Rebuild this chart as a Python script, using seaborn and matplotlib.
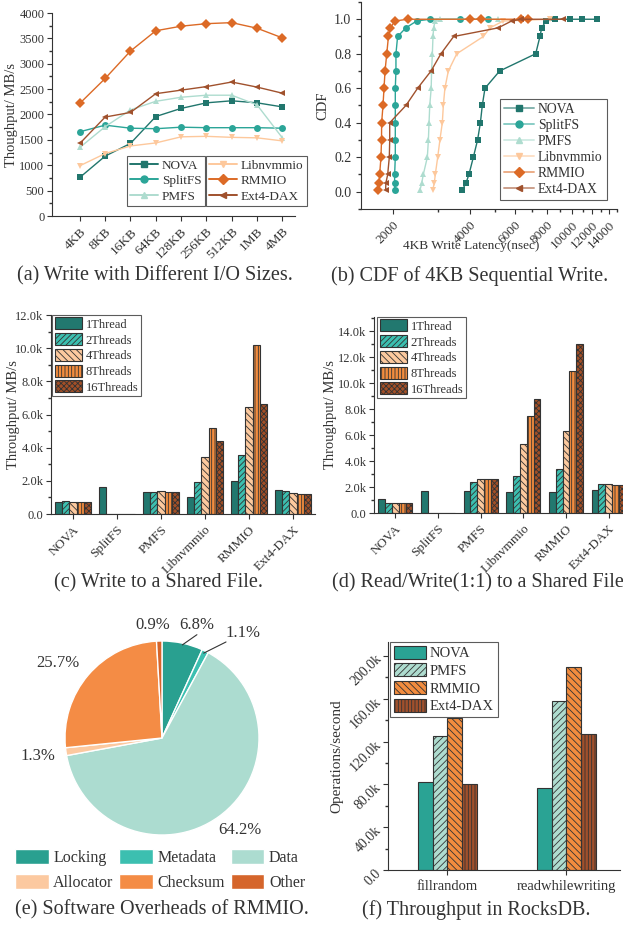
import matplotlib
matplotlib.use('Agg')
import matplotlib.pyplot as plt
from matplotlib.lines import Line2D
from matplotlib.patches import Patch
from matplotlib.colors import to_rgba
from matplotlib.ticker import (FixedLocator, FuncFormatter, NullFormatter,
                               MultipleLocator, AutoMinorLocator)
import numpy as np
import pandas as pd
import seaborn as sns

# ---------------- data ----------------
fs_order = ['NOVA', 'SplitFS', 'PMFS', 'Libnvmmio', 'RMMIO', 'Ext4-DAX']

# (a) write throughput (MB/s) vs I/O size
io_sizes = ['4KB', '8KB', '16KB', '64KB', '128KB', '256KB', '512KB', '1MB', '4MB']
a_nova = [760, 1180, 1430, 1960, 2120, 2230, 2270, 2230, 2150]
a_splitfs = [1660, 1790, 1730, 1720, 1750, 1740, 1740, 1740, 1730]
a_pmfs = [1350, 1760, 2090, 2260, 2340, 2380, 2380, 2190, 1540]
a_libnvmmio = [990, 1230, 1380, 1440, 1560, 1570, 1550, 1540, 1480]
a_rmmio = [2220, 2710, 3250, 3650, 3740, 3790, 3810, 3700, 3510]
a_ext4 = [1430, 1950, 2040, 2410, 2480, 2550, 2640, 2540, 2420]

# (b) CDF of 4KB write latency (nsec); every series shares the same levels,
# then a few extra points sitting at CDF = 1.0
cdf_levels = [0.01, 0.05, 0.1, 0.2, 0.3, 0.4, 0.5, 0.6, 0.7, 0.8, 0.9, 0.95, 0.99]
b_nova = [3730, 3855, 3960, 4120, 4280, 4390, 4465, 4575, 5220, 7220, 7500, 7620, 7920]
b_nova_tail = [8590, 9830, 10900, 12500]
b_splitfs = [2030, 2030, 2030, 2042, 2042, 2042, 2042, 2042, 2054, 2054, 2085, 2246, 2475]
b_splitfs_tail = [2790, 3650, 4710]
b_pmfs = [2550, 2590, 2627, 2724, 2750, 2766, 2784, 2820, 2830, 2850, 2866, 2884, 2920]
b_pmfs_tail = [3050, 5150]
b_libnvmmio = [2858, 2900, 2926, 2990, 3050, 3117, 3146, 3190, 3290, 3550, 4510, 4780, 5400]
b_libnvmmio_tail = [8200]
b_rmmio = [1742, 1764, 1774, 1795, 1804, 1806, 1828, 1845, 1862, 1891, 1920, 1953, 2036]
b_rmmio_tail = [2282, 4000, 4420, 6350, 6750]
b_ext4 = [1872, 1876, 1907, 1935, 1942, 1942, 2246, 2496, 2816, 3078, 3452, 5150, 5815]
b_ext4_tail = [6350, 9230]

# (c) write to a shared file (MB/s)
threads = ['1Thread', '2Threads', '4Threads', '8Threads', '16Threads']
c_1t = [740, 1640, 1340, 1000, 1960, 1440]
c_2t = [800, 0, 1340, 1940, 3580, 1400]
c_4t = [700, 0, 1400, 3420, 6480, 1240]
c_8t = [700, 0, 1340, 5180, 10200, 1180]
c_16t = [700, 0, 1340, 4420, 6640, 1180]

# (d) read/write 1:1 to a shared file (MB/s)
d_1t = [1050, 1720, 1700, 1630, 1630, 1780]
d_2t = [800, 0, 2380, 2850, 3400, 2260]
d_4t = [800, 0, 2600, 5350, 6350, 2220]
d_8t = [800, 0, 2600, 7440, 10930, 2120]
d_16t = [800, 0, 2600, 8780, 13000, 2150]

# (e) software overheads of RMMIO (%)
pie_parts = ['Locking', 'Metadata', 'Data', 'Allocator', 'Checksum', 'Other']
pie_share = [6.8, 1.1, 64.2, 1.3, 25.7, 0.9]

# (f) RocksDB throughput (ops/s)
workloads = ['fillrandom', 'readwhilewriting']
f_fs = ['NOVA', 'PMFS', 'RMMIO', 'Ext4-DAX']
f_nova = [82000, 77000]
f_pmfs = [125000, 157800]
f_rmmio = [141600, 189800]
f_ext4 = [80400, 126700]

# ---------------- styles ----------------
line_colors = {'NOVA': '#21766d', 'SplitFS': '#2ba598', 'PMFS': '#aedccf',
               'Libnvmmio': '#fdc89c', 'RMMIO': '#dc6a26', 'Ext4-DAX': '#a0512d'}
line_markers = {'NOVA': 's', 'SplitFS': 'o', 'PMFS': '^',
                'Libnvmmio': 'v', 'RMMIO': 'D', 'Ext4-DAX': '<'}
thread_colors = ['#22786f', '#3cbfb0', '#fcc99e', '#f28c3e', '#a24f27']
thread_hatch = ['', '//////', '\\\\\\\\\\', '|||||', 'xxxxxx']
f_colors = ['#2aa394', '#aedccf', '#f28c3e', '#a0502c']
f_hatch = ['', '/////', '\\\\\\\\\\', '|||||']
pie_colors = ['#29a090', '#3cbfb0', '#acdcd0', '#fcc9a0', '#f48c45', '#d5652b']
ink = '#333333'

sns.set_theme(style='ticks', rc={
    'axes.edgecolor': ink, 'axes.linewidth': 0.8,
    'xtick.color': ink, 'ytick.color': ink,
    'text.color': ink, 'axes.labelcolor': ink,
    'xtick.major.size': 3.5, 'ytick.major.size': 3.5,
    'xtick.minor.size': 2, 'ytick.minor.size': 2,
    'xtick.major.width': 0.8, 'ytick.major.width': 0.8,
    'hatch.linewidth': 0.6,
})
plt.rcParams['font.family'] = ['Liberation Serif', 'DejaVu Serif']

W, H = 623, 930
fig = plt.figure(figsize=(W / 100, H / 100), dpi=100)


def box(l, t, r, b):
    return [l / W, 1 - b / H, (r - l) / W, (b - t) / H]


ax_a = fig.add_axes(box(52, 13, 295, 216))
ax_b = fig.add_axes(box(361, 2, 617, 209))
ax_c = fig.add_axes(box(51, 315, 315, 514))
ax_d = fig.add_axes(box(374, 317, 630, 513))
ax_e = fig.add_axes(box(52, 628, 272, 848))
ax_f = fig.add_axes(box(388, 642, 620, 870))


def kfmt(v, p):
    return '0.0' if v == 0 else f'{v / 1000:.1f}k'


def rotate_x(ax, size):
    ax.tick_params(axis='x', labelsize=size)
    plt.setp(ax.get_xticklabels(), rotation=45, ha='right', rotation_mode='anchor')


def place_ylabel(ax, right_px, left_px, width_px):
    # right edge of the rotated label, in figure pixels
    ax.yaxis.set_label_coords((right_px - left_px) / width_px, 0.5)


# ---------------- (a) ----------------
a_vals = [a_nova, a_splitfs, a_pmfs, a_libnvmmio, a_rmmio, a_ext4]
df_a = pd.DataFrame({
    'size': io_sizes * len(fs_order),
    'fs': np.repeat(fs_order, len(io_sizes)),
    'tp': np.concatenate(a_vals),
})
sns.lineplot(data=df_a, x='size', y='tp', hue='fs', style='fs', hue_order=fs_order,
             style_order=fs_order, palette=line_colors, markers=line_markers,
             dashes=False, markersize=5, markeredgewidth=0, linewidth=1,
             sort=False, legend=False, ax=ax_a)
ax_a.set_xlim(-1.1, 8.5)
ax_a.set_ylim(0, 4000)
ax_a.yaxis.set_major_locator(MultipleLocator(500))
ax_a.yaxis.set_minor_locator(AutoMinorLocator(2))
ax_a.tick_params(axis='y', labelsize=9, pad=2)
ax_a.set_xlabel('')
ax_a.set_ylabel('Thoughput/ MB/s', fontsize=10.5)
place_ylabel(ax_a, 18, 52, 243)
rotate_x(ax_a, 9.5)
sns.despine(ax=ax_a)


def line_handle(name, alpha=1.0):
    c = line_colors[name]
    return Line2D([0], [0], color=to_rgba(c, alpha), marker=line_markers[name],
                  markerfacecolor=c, markeredgecolor=c, markersize=5, lw=1.4, label=name)


leg_kw = dict(fontsize=9.5, frameon=True, fancybox=False, edgecolor=ink,
              handlelength=2.1, handletextpad=0.3, borderpad=0.25, borderaxespad=0,
              labelspacing=0.25, bbox_transform=fig.transFigure, loc='upper left')
leg1 = ax_a.legend(handles=[line_handle(n) for n in fs_order[:3]],
                   bbox_to_anchor=(127 / W, 1 - 156 / H), **leg_kw)
leg1.get_frame().set_linewidth(0.8)
ax_a.add_artist(leg1)
leg2 = ax_a.legend(handles=[line_handle(n) for n in fs_order[3:]],
                   bbox_to_anchor=(206 / W, 1 - 156 / H), **leg_kw)
leg2.get_frame().set_linewidth(0.8)

# ---------------- (b) ----------------
b_x = [b_nova, b_splitfs, b_pmfs, b_libnvmmio, b_rmmio, b_ext4]
b_tail = [b_nova_tail, b_splitfs_tail, b_pmfs_tail, b_libnvmmio_tail, b_rmmio_tail, b_ext4_tail]
rows = []
for name, xs, tail in zip(fs_order, b_x, b_tail):
    for lat, cdf in zip(xs + tail, cdf_levels + [1.0] * len(tail)):
        rows.append((name, lat, cdf))
df_b = pd.DataFrame(rows, columns=['fs', 'lat', 'cdf'])
sns.lineplot(data=df_b, x='lat', y='cdf', hue='fs', style='fs', hue_order=fs_order,
             style_order=fs_order, palette=line_colors, markers=line_markers,
             dashes=False, markersize=5, markeredgewidth=0, linewidth=1,
             estimator=None, sort=False, legend=False, ax=ax_b)
ax_b.set_xscale('log')
ax_b.set_xlim(1500, 15000)
ax_b.set_ylim(-0.1, 1.1)
ax_b.xaxis.set_major_locator(FixedLocator([2000, 4000, 6000, 8000, 10000, 12000, 14000]))
ax_b.xaxis.set_major_formatter(FuncFormatter(lambda v, p: f'{int(round(v))}'))
ax_b.xaxis.set_minor_locator(FixedLocator([3000, 5000, 7000, 9000, 11000, 13000, 15000]))
ax_b.xaxis.set_minor_formatter(NullFormatter())
ax_b.yaxis.set_major_locator(MultipleLocator(0.2))
ax_b.yaxis.set_minor_locator(MultipleLocator(0.1))
ax_b.yaxis.set_major_formatter(FuncFormatter(lambda v, p: f'{v:.1f}'))
ax_b.tick_params(axis='y', labelsize=10)
ax_b.set_ylabel('CDF', fontsize=10.5)
place_ylabel(ax_b, 329, 361, 256)
ax_b.set_xlabel('4KB Write Latency(nsec)', fontsize=9.5)
ax_b.xaxis.set_label_coords(0.43, -0.15)
rotate_x(ax_b, 9.5)
sns.despine(ax=ax_b)
leg_b = ax_b.legend(handles=[line_handle(n, 0.55) for n in fs_order],
                    fontsize=9.8, frameon=True, fancybox=False, edgecolor=ink,
                    handlelength=2.2, handletextpad=0.3, borderpad=0.3, borderaxespad=0,
                    labelspacing=0.22, loc='upper left',
                    bbox_to_anchor=(500 / W, 1 - 99 / H), bbox_transform=fig.transFigure)
leg_b.get_frame().set_linewidth(0.8)


# ---------------- (c) / (d) ----------------
def thread_bars(ax, cols, top, legend_xy, label_right, left_px, width_px):
    df = pd.DataFrame({
        'fs': fs_order * len(threads),
        'th': np.repeat(threads, len(fs_order)),
        'tp': np.concatenate(cols),
    })
    sns.barplot(data=df, x='fs', y='tp', hue='th', order=fs_order, hue_order=threads,
                palette=thread_colors, saturation=1, width=0.8, gap=0,
                edgecolor=ink, linewidth=0.8, errorbar=None, legend=False, ax=ax)
    for i, cont in enumerate(ax.containers):
        for p in cont:
            p.set_hatch(thread_hatch[i])
    ax.set_xlim(-0.5, 5.5)
    ax.set_ylim(0, top)
    ax.yaxis.set_major_locator(MultipleLocator(2000))
    ax.yaxis.set_minor_locator(MultipleLocator(1000))
    ax.yaxis.set_major_formatter(FuncFormatter(kfmt))
    ax.tick_params(axis='y', labelsize=9, pad=2)
    ax.set_xlabel('')
    ax.set_ylabel('Throughput/ MB/s', fontsize=10.5)
    place_ylabel(ax, label_right, left_px, width_px)
    rotate_x(ax, 9.5)
    sns.despine(ax=ax)
    handles = [Patch(facecolor=c, edgecolor=ink, hatch=h, linewidth=0.8, label=t)
               for c, h, t in zip(thread_colors, thread_hatch, threads)]
    lg = ax.legend(handles=handles, fontsize=9, frameon=True, fancybox=False,
                   edgecolor=ink, handlelength=2.2, handleheight=1.1,
                   handletextpad=0.3, borderpad=0.2, labelspacing=0.2, borderaxespad=0,
                   loc='upper left', bbox_to_anchor=legend_xy,
                   bbox_transform=fig.transFigure)
    lg.get_frame().set_linewidth(0.8)


thread_bars(ax_c, [c_1t, c_2t, c_4t, c_8t, c_16t], 12000, (52 / W, 1 - 315 / H), 20, 51, 264)
thread_bars(ax_d, [d_1t, d_2t, d_4t, d_8t, d_16t], 15100, (377 / W, 1 - 317 / H), 337, 374, 256)

# ---------------- (e) ----------------
wedges, _ = ax_e.pie(pie_share, colors=pie_colors, startangle=90, counterclock=False,
                     wedgeprops=dict(edgecolor='white', linewidth=1.0))
ax_e.set_xlim(-1.134, 1.134)
ax_e.set_ylim(-1.134, 1.134)
ax_e.set_aspect('equal')
ax_e.axis('off')
pie_label_xy = [(0.36, 1.165), (0.84, 1.085), (0.80, -0.95),
                (-1.28, -0.19), (-1.07, 0.775), (-0.10, 1.165)]
for share, (lx, ly) in zip(pie_share, pie_label_xy):
    ax_e.text(lx, ly, f'{share}%', fontsize=12, ha='center', va='center')
ax_e.plot([0.21, 0.36], [0.96, 1.065], color=ink, lw=0.8, clip_on=False)
ax_e.plot([0.43, 0.66], [0.875, 0.99], color=ink, lw=0.8, clip_on=False)
# legend fills column by column, so order the handles to read row by row
pie_handles = [Patch(facecolor=c, edgecolor='white', label=n)
               for c, n in zip(pie_colors, pie_parts)]
row_major = [pie_handles[i] for i in (0, 3, 1, 4, 2, 5)]
fig.legend(handles=row_major, ncol=3, fontsize=11.5, frameon=False,
           handlelength=2.1, handleheight=1.05, handletextpad=0.3,
           columnspacing=0.35, labelspacing=0.5, borderpad=0, borderaxespad=0,
           loc='upper left', bbox_to_anchor=(15 / W, 1 - 849 / H))

# ---------------- (f) ----------------
df_f = pd.DataFrame({
    'wl': workloads * len(f_fs),
    'fs': np.repeat(f_fs, len(workloads)),
    'ops': np.concatenate([f_nova, f_pmfs, f_rmmio, f_ext4]),
})
sns.barplot(data=df_f, x='wl', y='ops', hue='fs', order=workloads, hue_order=f_fs,
            palette=f_colors, saturation=1, width=0.5, gap=0,
            edgecolor=ink, linewidth=0.8, errorbar=None, legend=False, ax=ax_f)
for i, cont in enumerate(ax_f.containers):
    for p in cont:
        p.set_hatch(f_hatch[i])
ax_f.set_xlim(-0.5, 1.45)
ax_f.set_ylim(0, 213000)
ax_f.yaxis.set_major_locator(MultipleLocator(40000))
ax_f.yaxis.set_minor_locator(MultipleLocator(20000))
ax_f.yaxis.set_major_formatter(FuncFormatter(kfmt))
ax_f.tick_params(axis='y', labelsize=10)
ax_f.tick_params(axis='x', labelsize=10.5)
plt.setp(ax_f.get_yticklabels(), rotation=45, ha='right', rotation_mode='anchor')
ax_f.set_xlabel('')
ax_f.set_ylabel('Operations/second', fontsize=11)
place_ylabel(ax_f, 343, 388, 232)
sns.despine(ax=ax_f)
f_handles = [Patch(facecolor=c, edgecolor=ink, hatch=h, linewidth=0.8, label=n)
             for c, h, n in zip(f_colors, f_hatch, f_fs)]
lg_f = ax_f.legend(handles=f_handles, fontsize=10.5, frameon=True, fancybox=False,
                   edgecolor=ink, handlelength=2.2, handleheight=1.0,
                   handletextpad=0.3, borderpad=0.25, labelspacing=0.22, borderaxespad=0,
                   loc='upper left', bbox_to_anchor=(390 / W, 1 - 642 / H),
                   bbox_transform=fig.transFigure)
lg_f.get_frame().set_linewidth(0.8)

# ---------------- captions ----------------
captions = [
    (155, 276, '(a) Write with Different I/O Sizes.'),
    (470, 276, '(b) CDF of 4KB Sequential Write.'),
    (159, 583, '(c) Write to a Shared File.'),
    (478, 583, '(d) Read/Write(1:1) to a Shared File'),
    (162, 910, '(e) Software Overheads of RMMIO.'),
    (476, 910, '(f) Throughput in RocksDB.'),
]
for x, y, t in captions:
    fig.text(x / W, 1 - y / H, t, fontsize=14.5, ha='center', va='center')

fig.savefig('out.png', dpi=100)
